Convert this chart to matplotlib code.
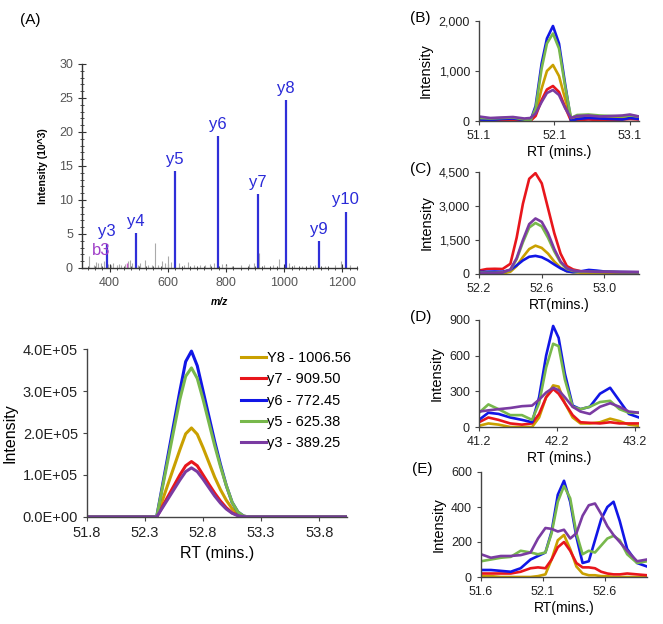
import matplotlib
matplotlib.use("Agg")
import matplotlib.pyplot as plt
from matplotlib.ticker import MultipleLocator, FuncFormatter

plt.rcParams["font.family"] = ["Liberation Sans", "DejaVu Sans"]

# ---- panel A (spectrum) ----
ion_labels = ["y3", "y4", "y5", "y6", "y7", "y8", "y9", "y10"]
ion_mz = [389.25, 489.3, 625.38, 772.45, 909.50, 1006.56, 1119.6, 1210.7]
ion_int = [3.6, 5.1, 14.2, 19.4, 10.9, 24.7, 3.9, 8.3]
b3_mz = 458.0
b3_int = 0.7
noise_mz = [330, 345, 352, 361, 372, 380, 395, 405, 412, 425, 433, 440, 452, 462,
            470, 478, 497, 505, 520, 532, 547, 556, 566, 580, 590, 601, 612, 640,
            655, 668, 690, 712, 728, 745, 760, 785, 800, 820, 850, 880, 897, 912,
            930, 960, 981, 1018, 1035, 1060, 1090, 1105, 1140, 1175, 1194, 1225]
noise_int = [1.7, 0.5, 0.9, 0.7, 0.8, 1.0, 0.6, 0.5, 0.7, 0.4, 0.6, 0.5, 0.6, 1.0,
             1.2, 0.7, 0.5, 0.8, 1.2, 0.5, 0.4, 3.7, 0.5, 1.0, 0.7, 1.8, 0.9, 0.7,
             0.4, 0.9, 0.4, 0.5, 0.4, 0.6, 0.8, 0.6, 0.5, 0.3, 0.4, 0.6, 0.8, 2.2,
             0.5, 0.4, 1.3, 0.8, 0.4, 0.3, 0.5, 0.4, 0.3, 0.5, 1.0, 0.4]

# ---- panel A (XIC) ----
series_names = ["Y8 - 1006.56", "y7 - 909.50", "y6 - 772.45", "y5 - 625.38", "y3 - 389.25"]
colors = ["#C9A000", "#E8161C", "#1116E6", "#78B84C", "#7A3BA2"]
a_rt = [51.8, 52.0, 52.2, 52.35, 52.40, 52.45, 52.50, 52.55, 52.60, 52.65, 52.70, 52.75,
        52.80, 52.85, 52.90, 52.95, 53.00, 53.05, 53.10, 53.15, 53.20, 53.4, 53.7, 54.04]
a_y8 = [0, 0, 0, 0, 0, 0.4e5, 0.8e5, 1.2e5, 1.6e5, 1.98e5, 2.12e5, 1.97e5, 1.65e5, 1.3e5,
        0.95e5, 0.65e5, 0.4e5, 0.2e5, 0.08e5, 0.02e5, 0, 0, 0, 0]
a_y7 = [0, 0, 0, 0, 0, 0.25e5, 0.5e5, 0.75e5, 1.0e5, 1.22e5, 1.32e5, 1.22e5, 1.0e5, 0.78e5,
        0.57e5, 0.38e5, 0.22e5, 0.1e5, 0.04e5, 0.01e5, 0, 0, 0, 0]
a_y6 = [0, 0, 0, 0, 0, 0.75e5, 1.5e5, 2.25e5, 3.0e5, 3.7e5, 3.95e5, 3.6e5, 3.0e5, 2.4e5,
        1.8e5, 1.25e5, 0.75e5, 0.35e5, 0.12e5, 0.02e5, 0, 0, 0, 0]
a_y5 = [0, 0, 0, 0, 0, 0.7e5, 1.4e5, 2.1e5, 2.8e5, 3.35e5, 3.55e5, 3.3e5, 2.8e5, 2.25e5,
        1.7e5, 1.2e5, 0.75e5, 0.35e5, 0.12e5, 0.02e5, 0, 0, 0, 0]
a_y3 = [0, 0, 0, 0, 0, 0.22e5, 0.44e5, 0.66e5, 0.88e5, 1.08e5, 1.17e5, 1.08e5, 0.9e5, 0.7e5,
        0.5e5, 0.33e5, 0.19e5, 0.09e5, 0.03e5, 0.01e5, 0, 0, 0, 0]

# ---- panel B ----
b_rt = [51.1, 51.25, 51.4, 51.55, 51.7, 51.78, 51.85, 51.93, 52.0, 52.08, 52.16, 52.24,
        52.32, 52.4, 52.55, 52.7, 52.85, 53.0, 53.1, 53.22]
b_y8 = [20, 10, 20, 30, 10, 0, 150, 650, 1000, 1120, 900, 450, 20, 80, 90, 80, 70, 60, 80, 70]
b_y7 = [0, 0, 10, 10, 0, 0, 100, 420, 630, 700, 580, 280, 0, 20, 30, 20, 20, 30, 40, 30]
b_y6 = [30, 20, 40, 50, 20, 0, 300, 1150, 1650, 1900, 1550, 750, 0, 40, 60, 50, 40, 30, 60, 40]
b_y5 = [60, 50, 60, 70, 30, 0, 250, 1050, 1550, 1750, 1450, 700, 60, 120, 130, 110, 100, 90, 110, 90]
b_y3 = [90, 60, 70, 80, 50, 60, 150, 380, 560, 620, 520, 260, 60, 100, 110, 90, 100, 110, 130, 90]

# ---- panel C ----
c_rt = [52.2, 52.25, 52.3, 52.35, 52.4, 52.44, 52.48, 52.52, 52.56, 52.6, 52.64, 52.68,
        52.72, 52.76, 52.8, 52.85, 52.9, 52.95, 53.0, 53.1, 53.22]
c_y8 = [0, 0, 0, 20, 100, 350, 750, 1100, 1250, 1150, 900, 550, 280, 120, 80, 60, 60, 60, 60, 50, 50]
c_y7 = [150, 220, 230, 220, 450, 1600, 3100, 4200, 4450, 4000, 2900, 1800, 900, 350, 200, 120, 100, 100, 90, 80, 80]
c_y6 = [100, 100, 110, 100, 180, 380, 600, 760, 800, 740, 600, 420, 250, 120, 80, 120, 180, 150, 110, 90, 80]
c_y5 = [60, 50, 50, 60, 180, 650, 1400, 2050, 2250, 2100, 1600, 1000, 500, 220, 130, 110, 100, 90, 90, 80, 70]
c_y3 = [50, 40, 40, 60, 200, 700, 1500, 2200, 2450, 2300, 1800, 1100, 550, 250, 150, 120, 110, 100, 100, 90, 80]

# ---- panel D ----
d_rt = [41.2, 41.32, 41.45, 41.6, 41.75, 41.88, 41.97, 42.06, 42.15, 42.22, 42.3, 42.4,
        42.5, 42.62, 42.75, 42.88, 43.0, 43.12, 43.25]
d_y8 = [10, 30, 20, 0, 0, 0, 80, 250, 350, 340, 200, 80, 30, 30, 40, 70, 50, 20, 10]
d_y7 = [40, 80, 60, 30, 20, 30, 110, 250, 320, 280, 200, 100, 40, 35, 30, 40, 30, 30, 30]
d_y6 = [60, 120, 110, 80, 60, 40, 250, 600, 850, 750, 450, 180, 150, 170, 280, 330, 220, 110, 80]
d_y5 = [120, 190, 150, 100, 100, 60, 200, 500, 700, 680, 400, 170, 150, 170, 210, 220, 150, 120, 120]
d_y3 = [130, 140, 150, 160, 175, 180, 230, 290, 330, 310, 250, 170, 130, 110, 170, 200, 170, 130, 120]

# ---- panel E ----
e_rt = [51.6, 51.68, 51.76, 51.84, 51.92, 52.0, 52.06, 52.12, 52.17, 52.22, 52.27, 52.32,
        52.37, 52.42, 52.47, 52.52, 52.57, 52.62, 52.67, 52.72, 52.78, 52.86, 52.94]
e_y8 = [5, 5, 0, 0, 0, 0, 5, 15, 100, 210, 240, 160, 60, 20, 10, 10, 5, 5, 0, 0, 0, 0, 0]
e_y7 = [20, 20, 20, 20, 30, 50, 55, 50, 100, 170, 200, 150, 80, 55, 55, 50, 30, 20, 15, 15, 20, 15, 10]
e_y6 = [40, 40, 35, 30, 50, 100, 120, 140, 260, 470, 550, 430, 230, 80, 90, 210, 330, 400, 430, 320, 160, 80, 60]
e_y5 = [90, 100, 110, 115, 150, 140, 130, 140, 250, 430, 520, 450, 250, 130, 150, 140, 180, 220, 235, 210, 130, 80, 90]
e_y3 = [130, 110, 120, 120, 125, 140, 220, 280, 275, 260, 270, 220, 250, 350, 410, 420, 360, 290, 240, 200, 150, 90, 100]

W, H = 663, 624
fig = plt.figure(figsize=(W / 100, H / 100), dpi=100)
fig.patch.set_facecolor("white")


def box(l, r, b, t):
    return [l / W, 1 - b / H, (r - l) / W, (b - t) / H]


def style_xic(ax, size):
    for s in ["top", "right"]:
        ax.spines[s].set_visible(False)
    for s in ["left", "bottom"]:
        ax.spines[s].set_color("#444444")
        ax.spines[s].set_linewidth(1.0)
    ax.tick_params(direction="out", length=3, width=0.8, colors="#444444",
                   labelcolor="#222222", labelsize=size)


# spectrum
ax = fig.add_axes(box(82, 357, 268, 64))
ax.vlines(noise_mz, 0, noise_int, color="#AAAAAA", lw=0.8)
ax.vlines([b3_mz], 0, [b3_int], color="#CC55CC", lw=1.0)
ax.vlines(ion_mz, 0, ion_int, color="#2F2FD8", lw=1.6)
for lab, mz, h in zip(ion_labels, ion_mz, ion_int):
    ax.annotate(lab, (mz, h), xytext=(0, 3), textcoords="offset points",
                ha="center", va="bottom", color="#2A2AD8", fontsize=12)
ax.text(372, 2.6, "b3", color="#A040C8", fontsize=12, ha="center", va="center")
ax.set_xlim(305, 1250)
ax.set_ylim(0, 30)
ax.set_xticks([400, 600, 800, 1000, 1200])
ax.set_yticks([0, 5, 10, 15, 20, 25, 30])
ax.xaxis.set_minor_locator(MultipleLocator(25))
ax.yaxis.set_minor_locator(MultipleLocator(1))
for s in ["top", "right"]:
    ax.spines[s].set_visible(False)
for s in ["left", "bottom"]:
    ax.spines[s].set_color("#333333")
    ax.spines[s].set_linewidth(1.0)
ax.tick_params(which="major", direction="inout", length=6, width=0.8,
               colors="#333333", labelcolor="#555555", labelsize=9)
ax.tick_params(which="minor", direction="inout", length=3, width=0.6, colors="#333333")
ax.set_ylabel("Intensity (10^3)", fontsize=7.5, fontweight="bold", labelpad=8)
ax.set_xlabel("m/z", fontsize=7.5, fontweight="bold", fontstyle="italic", labelpad=6)
fig.text(20 / W, 1 - 20 / H, "(A)", fontsize=11, ha="left", va="center")

# XIC in panel A
ax = fig.add_axes(box(87, 347, 517, 349))
for name, col, ys in zip(series_names, colors, [a_y8, a_y7, a_y6, a_y5, a_y3]):
    ax.plot(a_rt, ys, color=col, lw=2.2, label=name)
ax.set_xlim(51.8, 54.04)
ax.set_ylim(0, 4e5)
ax.set_xticks([51.8, 52.3, 52.8, 53.3, 53.8])
ax.set_yticks([0, 1e5, 2e5, 3e5, 4e5])
ax.yaxis.set_major_formatter(FuncFormatter(lambda v, p: f"{v:.1E}"))
style_xic(ax, 10.5)
ax.set_xlabel("RT (mins.)", fontsize=11.5, labelpad=4)
ax.set_ylabel("Intensity", fontsize=11.5, labelpad=4)
ax.legend(loc="upper right", bbox_to_anchor=(1.05, 1.04), frameon=False, fontsize=10.5,
          handlelength=1.7, handletextpad=0.1, labelspacing=0.5, borderaxespad=0.2)

# right panels
panels = [
    ("(B)", box(479, 639, 121, 21), b_rt, [b_y8, b_y7, b_y6, b_y5, b_y3],
     (51.1, 53.22), [51.1, 52.1, 53.1], 2000, [0, 1000, 2000], "RT (mins.)"),
    ("(C)", box(479, 639, 274, 172), c_rt, [c_y8, c_y7, c_y6, c_y5, c_y3],
     (52.2, 53.22), [52.2, 52.6, 53.0], 4500, [0, 1500, 3000, 4500], "RT(mins.)"),
    ("(D)", box(479, 639, 427, 320), d_rt, [d_y8, d_y7, d_y6, d_y5, d_y3],
     (41.2, 43.25), [41.2, 42.2, 43.2], 900, [0, 300, 600, 900], "RT (mins.)"),
    ("(E)", box(481, 647, 577, 472), e_rt, [e_y8, e_y7, e_y6, e_y5, e_y3],
     (51.6, 52.94), [51.6, 52.1, 52.6], 600, [0, 200, 400, 600], "RT(mins.)"),
]
for tag, rect, rt, ys_list, xl, xt, ytop, yt, xlab in panels:
    ax = fig.add_axes(rect)
    for col, ys in zip(colors, ys_list):
        ax.plot(rt, ys, color=col, lw=1.9)
    ax.set_xlim(*xl)
    ax.set_ylim(0, ytop)
    ax.set_xticks(xt)
    ax.set_yticks(yt)
    ax.xaxis.set_major_formatter(FuncFormatter(lambda v, p: f"{v:.1f}"))
    ax.yaxis.set_major_formatter(FuncFormatter(lambda v, p: f"{v:,.0f}"))
    style_xic(ax, 9)
    ax.set_xlabel(xlab, fontsize=10, labelpad=2)
    ax.set_ylabel("Intensity", fontsize=10.5, labelpad=4)
    l = rect[0] * W
    t = (1 - rect[1] - rect[3]) * H
    fig.text((l - 69) / W, 1 - (t - 3) / H, tag, fontsize=11, ha="left", va="center")

fig.savefig("out.png", dpi=100)
